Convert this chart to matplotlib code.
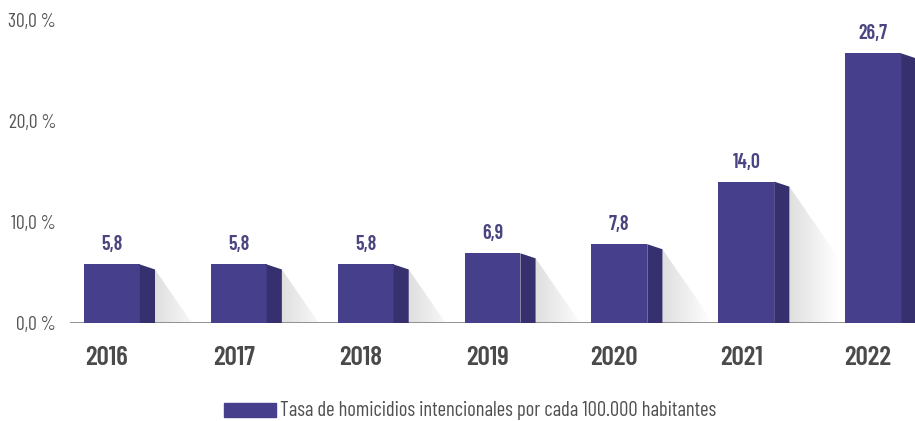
import numpy as np
import matplotlib.pyplot as plt
from matplotlib.patches import Polygon, Rectangle

plt.rcParams['font.family'] = ['Barlow Condensed', 'DejaVu Sans']

years = ['2016', '2017', '2018', '2019', '2020', '2021', '2022']
rates = [5.8, 5.8, 5.8, 6.9, 7.8, 14.0, 26.7]
y_ticks = [0, 10, 20, 30]
y_tick_labels = ['0,0 %', '10,0 %', '20,0 %', '30,0 %']
legend_label = 'Tasa de homicidios intencionales por cada 100.000 habitantes'

front_color = '#463f8c'
side_color = '#37306e'
value_color = '#4a4580'

fig = plt.figure(figsize=(9.15, 4.21), dpi=100)
ax = fig.add_axes([70 / 915, 98 / 421, 845 / 915, 303 / 421])
ax.set_xlim(-0.33, 6.33)
ax.set_ylim(0, 30)

x = np.arange(len(years))
bar_w = 0.44
side_w = 0.12

# shadows behind the bars
for xi, h in zip(x, rates):
    xs = xi + bar_w / 2 + side_w
    top = h - 0.5
    reach = top * 10.1 / 1.45 / 126.8
    tri = Polygon([(xs, top), (xs + reach, 0), (xs, 0)], closed=True,
                  facecolor='none', edgecolor='none')
    ax.add_patch(tri)
    grad = np.zeros((2, 100, 4))
    fade = np.clip(1 - np.linspace(0, 1, 100) * reach / 0.38, 0, 1)
    grad[:, :, 0:3] = 0.55
    grad[:, :, 3] = 0.28 * fade
    im = ax.imshow(grad, extent=[xs, xs + reach, 0, top], aspect='auto',
                   interpolation='bilinear', zorder=1)
    im.set_clip_path(tri)

ax.bar(x, rates, width=bar_w, color=front_color, zorder=3)

# darker side face with a slanted top
for xi, h in zip(x, rates):
    xr = xi + bar_w / 2
    ax.fill([xr, xr + side_w, xr + side_w, xr],
            [h, h - 0.5, 0, 0], color=side_color, lw=0, zorder=3)
    ax.text(xi, h + 1.0, f'{h:.1f}'.replace('.', ','), ha='center', va='bottom',
            fontsize=14.5, fontweight='semibold', color=value_color)
    ax.text(xi - 0.04, -3.5, years[xi], ha='center', va='center',
            fontsize=19.5, fontweight='semibold', color='#4a4a4a', clip_on=False)

ax.axhline(0, color='#8a8a8a', lw=1.3, zorder=2)

ax.set_xticks([])
ax.set_yticks(y_ticks)
ax.set_yticklabels(y_tick_labels, fontsize=14, color='#555555')
ax.tick_params(axis='y', length=0, pad=10)
for s in ax.spines.values():
    s.set_visible(False)

fig.patches.append(Rectangle((224 / 915, 4 / 421), 52 / 915, 14 / 421,
                             transform=fig.transFigure, color=front_color))
fig.text(280 / 915, 11 / 421, legend_label, fontsize=14.8, color='#505050',
         va='center', ha='left')

fig.savefig('out.png', dpi=100)
